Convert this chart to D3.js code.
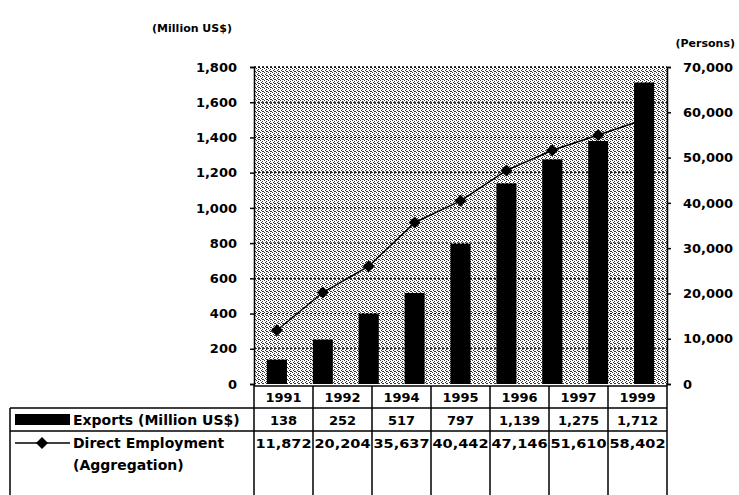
<!DOCTYPE html>
<html>
<head>
<meta charset="utf-8">
<script src="https://cdn.jsdelivr.net/npm/d3@7"></script>
<style>
  body { margin: 0; background: #fff; }
  svg { display: block; }
  text { font-family: "DejaVu Sans", sans-serif; font-weight: bold; font-size: 13px; fill: #000; }
  .axis path, .axis line { stroke: #000; stroke-width: 1.5; }
  .grid { stroke: #000; stroke-width: 1; stroke-dasharray: 2,2; }
  .rule { stroke: #000; stroke-width: 1.5; }
  .legend { font-size: 14px; }
  .unit { font-size: 11px; }
</style>
</head>
<body>
<script>
// chart data
const years = ["1991", "1992", "1993", "1994", "1995", "1996", "1997", "1998", "1999"];
const exportValues = [138, 252, 400, 517, 797, 1139, 1275, 1380, 1712];
const employmentValues = [11872, 20204, 26000, 35637, 40442, 47146, 51610, 55000, 58402];

// data table under the chart (1993 and 1998 are left out there)
const tableYears = ["1991", "1992", "1994", "1995", "1996", "1997", "1999"];
const tableExports = [138, 252, 517, 797, 1139, 1275, 1712];
const tableEmployment = [11872, 20204, 35637, 40442, 47146, 51610, 58402];

const leftTicks = [0, 200, 400, 600, 800, 1000, 1200, 1400, 1600, 1800];
const rightTicks = [0, 10000, 20000, 30000, 40000, 50000, 60000, 70000];

const WIDTH = 739;
const HEIGHT = 495;
const PLOT_LEFT = 254;
const PLOT_RIGHT = 667;
const PLOT_TOP = 67;
const PLOT_BOTTOM = 384;
const TABLE_LEFT = 10;
const ROW_YEAR = 386;
const ROW_EXPORT = 408;
const ROW_EMPLOY = 431;

var fmt = d3.format(",");

var xScale = d3.scalePoint()
    .domain(years)
    .range([PLOT_LEFT, PLOT_RIGHT])
    .padding(0.5);

var colScale = d3.scaleBand()
    .domain(tableYears)
    .range([PLOT_LEFT, PLOT_RIGHT]);

var yLeft = d3.scaleLinear()
    .domain([0, 1800])
    .range([PLOT_BOTTOM, PLOT_TOP]);

var yRight = d3.scaleLinear()
    .domain([0, 70000])
    .range([PLOT_BOTTOM, PLOT_TOP]);

// square turned 45deg = the fat diamond marker
var diamond = d3.symbol().type(d3.symbolSquare).size(72);
var markerAt = function(x, y) { return 'translate(' + x + ',' + y + ') rotate(45)'; };

var svg = d3.select('body').append('svg')
    .attr('width', WIDTH)
    .attr('height', HEIGHT);

// dithered grey background like the scanned original
var pat = svg.append('defs').append('pattern')
    .attr('id', 'dots')
    .attr('width', 4).attr('height', 4)
    .attr('patternUnits', 'userSpaceOnUse');
pat.append('rect').attr('width', 4).attr('height', 4).attr('fill', '#fff');
[[0, 0], [2, 1], [1, 2], [3, 3], [2, 3]].forEach(function(p) {
    pat.append('rect')
        .attr('x', p[0]).attr('y', p[1])
        .attr('width', 1).attr('height', 1)
        .attr('fill', '#333');
});

svg.append('rect')
    .attr('x', PLOT_LEFT).attr('y', PLOT_TOP)
    .attr('width', PLOT_RIGHT - PLOT_LEFT)
    .attr('height', PLOT_BOTTOM - PLOT_TOP)
    .attr('fill', 'url(#dots)')
    .attr('shape-rendering', 'crispEdges');

// gridlines
svg.append('g').selectAll('line')
    .data(leftTicks.filter(function(d) { return d > 0; }))
    .enter().append('line')
    .attr('class', 'grid')
    .attr('x1', PLOT_LEFT).attr('x2', PLOT_RIGHT)
    .attr('y1', function(d) { return yLeft(d); })
    .attr('y2', function(d) { return yLeft(d); });

// axes
svg.append('g')
    .attr('class', 'axis')
    .attr('transform', 'translate(' + PLOT_LEFT + ',0)')
    .call(d3.axisLeft(yLeft).tickValues(leftTicks).tickFormat(fmt).tickSizeOuter(0).tickSize(4).tickPadding(13));

svg.append('g')
    .attr('class', 'axis')
    .attr('transform', 'translate(' + PLOT_RIGHT + ',0)')
    .call(d3.axisRight(yRight).tickValues(rightTicks).tickFormat(fmt).tickSizeOuter(0).tickSize(4).tickPadding(12));

svg.selectAll('.axis text').style('font-size', '13px');

// employment line (drawn first, bars sit over it)
var line = d3.line()
    .x(function(d, i) { return xScale(years[i]); })
    .y(function(d) { return yRight(d); });

svg.append('path')
    .attr('d', line(employmentValues))
    .attr('fill', 'none')
    .attr('stroke', '#000')
    .attr('stroke-width', 1.5);

svg.append('g').selectAll('path')
    .data(employmentValues)
    .enter().append('path')
    .attr('d', diamond)
    .attr('transform', function(d, i) { return markerAt(xScale(years[i]), yRight(d)); })
    .attr('fill', '#000');

// export bars
var BAR_W = 20;
svg.append('g').selectAll('rect')
    .data(exportValues)
    .enter().append('rect')
    .attr('x', function(d, i) { return xScale(years[i]) - BAR_W / 2; })
    .attr('y', function(d) { return yLeft(d); })
    .attr('width', BAR_W)
    .attr('height', function(d) { return yLeft(0) - yLeft(d); })
    .attr('fill', '#000');

// plot frame top / bottom
svg.append('line').attr('class', 'grid')
    .attr('x1', PLOT_LEFT).attr('x2', PLOT_RIGHT)
    .attr('y1', PLOT_TOP).attr('y2', PLOT_TOP);
svg.append('line').attr('class', 'rule')
    .attr('x1', PLOT_LEFT).attr('x2', PLOT_RIGHT)
    .attr('y1', ROW_YEAR).attr('y2', ROW_YEAR);

// data table
var table = svg.append('g');

table.append('line').attr('class', 'rule')
    .attr('x1', TABLE_LEFT).attr('x2', PLOT_RIGHT)
    .attr('y1', ROW_EXPORT).attr('y2', ROW_EXPORT);
table.append('line').attr('class', 'rule')
    .attr('x1', TABLE_LEFT).attr('x2', PLOT_RIGHT)
    .attr('y1', ROW_EMPLOY).attr('y2', ROW_EMPLOY);
table.append('line').attr('class', 'rule')
    .attr('x1', TABLE_LEFT).attr('x2', TABLE_LEFT)
    .attr('y1', ROW_EXPORT).attr('y2', HEIGHT);
table.append('line').attr('class', 'rule')
    .attr('x1', PLOT_LEFT).attr('x2', PLOT_LEFT)
    .attr('y1', PLOT_BOTTOM).attr('y2', HEIGHT);
table.append('line').attr('class', 'rule')
    .attr('x1', PLOT_RIGHT).attr('x2', PLOT_RIGHT)
    .attr('y1', PLOT_BOTTOM).attr('y2', HEIGHT);

table.selectAll('.sep')
    .data(tableYears.slice(1))
    .enter().append('line')
    .attr('class', 'rule sep')
    .attr('x1', function(d) { return colScale(d); })
    .attr('x2', function(d) { return colScale(d); })
    .attr('y1', ROW_YEAR).attr('y2', HEIGHT);

var cellX = function(d, i) { return colScale(tableYears[i]) + colScale.bandwidth() / 2; };

table.selectAll('.yr')
    .data(tableYears)
    .enter().append('text')
    .attr('class', 'yr')
    .attr('x', cellX)
    .attr('y', 402)
    .attr('text-anchor', 'middle')
    .text(function(d) { return d; });

table.selectAll('.ex')
    .data(tableExports)
    .enter().append('text')
    .attr('class', 'ex')
    .attr('x', cellX)
    .attr('y', 425)
    .attr('text-anchor', 'middle')
    .text(function(d) { return fmt(d); });

table.selectAll('.em')
    .data(tableEmployment)
    .enter().append('text')
    .attr('class', 'em')
    .attr('x', cellX)
    .attr('y', 448)
    .attr('text-anchor', 'middle')
    .attr('textLength', 56)
    .attr('lengthAdjust', 'spacingAndGlyphs')
    .text(function(d) { return fmt(d); });

// legend keys inside the table
table.append('rect')
    .attr('x', 15).attr('y', 414)
    .attr('width', 55).attr('height', 11)
    .attr('fill', '#000');
table.append('text')
    .attr('class', 'legend')
    .attr('x', 73).attr('y', 425)
    .text('Exports (Million US$)');

table.append('line').attr('class', 'rule')
    .attr('x1', 15).attr('x2', 70)
    .attr('y1', 443).attr('y2', 443);
table.append('path')
    .attr('d', diamond)
    .attr('transform', markerAt(42, 443))
    .attr('fill', '#000');
table.append('text')
    .attr('class', 'legend')
    .attr('x', 73).attr('y', 448)
    .text('Direct Employment');
table.append('text')
    .attr('class', 'legend')
    .attr('x', 73).attr('y', 470)
    .text('(Aggregation)');

// unit labels
svg.append('text')
    .attr('class', 'unit')
    .attr('x', 192).attr('y', 32)
    .attr('text-anchor', 'middle')
    .text('(Million US$)');
svg.append('text')
    .attr('class', 'unit')
    .attr('x', 735).attr('y', 47)
    .attr('text-anchor', 'end')
    .text('(Persons)');
</script>
</body>
</html>
